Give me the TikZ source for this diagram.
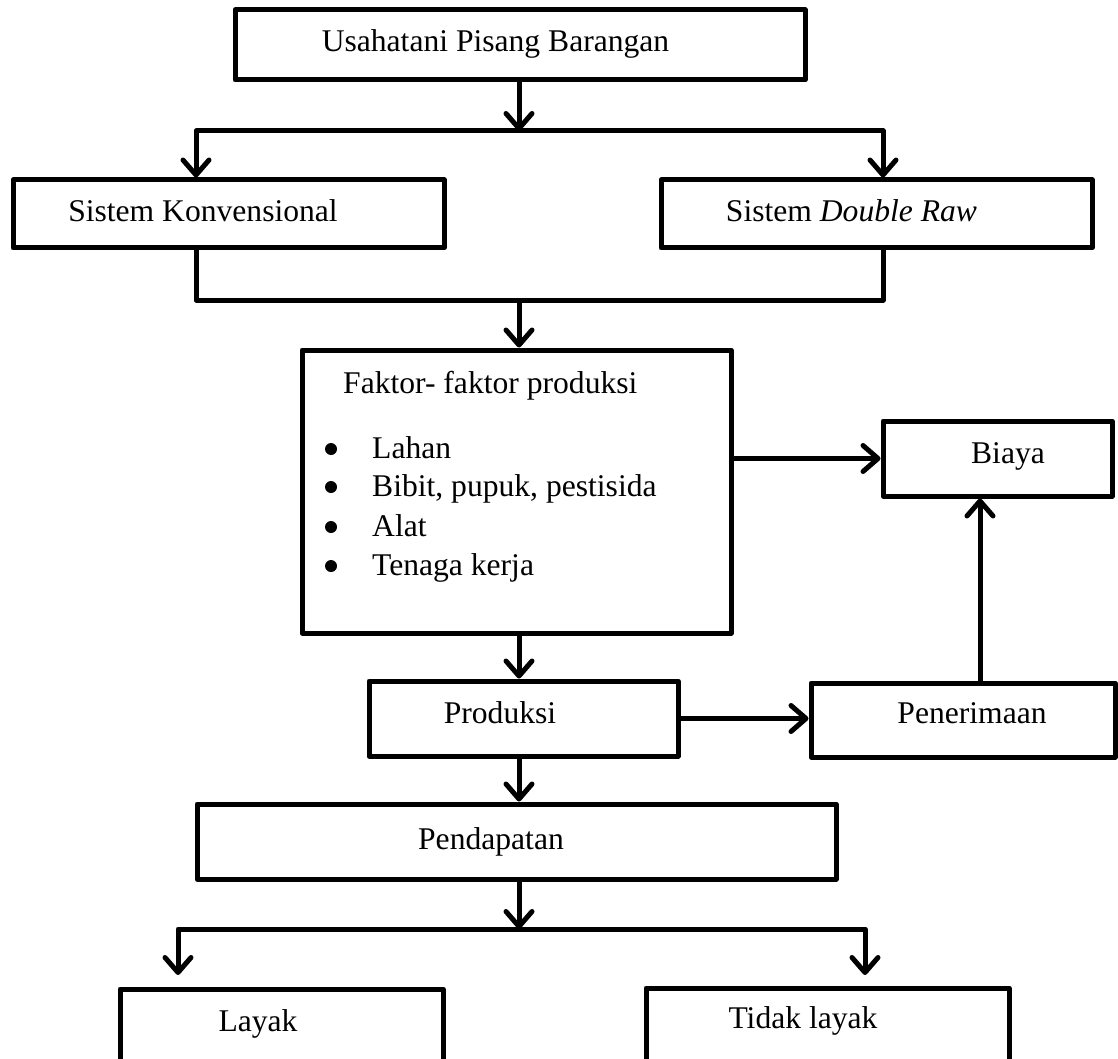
\documentclass[tikz,border=0pt]{standalone}
\usepackage{fontspec}
\setmainfont{Liberation Serif}
\usetikzlibrary{arrows.meta}

\tikzset{
	box/.style={draw, rectangle, line width=5pt, inner sep=0pt, line join=round},
	txt/.style={anchor=base, inner sep=0pt, font=\fontsize{31.6}{38}\selectfont},
	ln/.style={line width=5pt, line join=round},
	arr/.style={ln, -{Straight Barb[length=15pt,width=26pt,round]}},
}

\begin{document}
\begin{tikzpicture}[x=1pt,y=-1pt]
		\useasboundingbox (0,0) rectangle (1118,1059);

		\node[box, minimum width=570, minimum height=70] (usaha) at (520,45) {};
		\node[box, minimum width=431, minimum height=68] (konv) at (228.5,214) {};
		\node[box, minimum width=431, minimum height=68] (dbl) at (876.5,214) {};
		\node[box, minimum width=429, minimum height=283] (faktor) at (516.5,491.5) {};
		\node[box, minimum width=229, minimum height=75] (biaya) at (997.5,458.5) {};
		\node[box, minimum width=309, minimum height=75] (produksi) at (523.5,718.5) {};
		\node[box, minimum width=304, minimum height=74] (terima) at (963,720) {};
		\node[box, minimum width=639, minimum height=75] (pendapatan) at (516.5,841.5) {};
		\node[box, minimum width=323, minimum height=100] (layak) at (281.5,1039) {};
		\node[box, minimum width=363, minimum height=100] (tlayak) at (827.5,1038) {};

		\node[txt] (usahaT) at (495.5,52) {Usahatani Pisang Barangan};
		\node[txt] (konvT) at (203,222) {Sistem Konvensional};
		\node[txt] (dblT) at (851.5,222) {Sistem \textit{Double Raw}};
		\node[txt, anchor=base west] (faktorT) at (343,393) {Faktor- faktor produksi};
		\foreach \y/\t [count=\i] in {458/Lahan, 496/{Bibit, pupuk, pestisida}, 536/Alat, 575/{Tenaga kerja}} {
			\node[circle, fill, inner sep=0pt, minimum size=12] (dot\i) at (331,\y-9) {};
			\node[txt, anchor=base west] (item\i) at (372,\y) {\t};
		}
		\node[txt] (biayaT) at (1008,463) {Biaya};
		\node[txt] (produksiT) at (500,723) {Produksi};
		\node[txt] (terimaT) at (972,723) {Penerimaan};
		\node[txt] (pendapatanT) at (491,849) {Pendapatan};
		\node[txt] (layakT) at (258,1031) {Layak};
		\node[txt] (tlayakT) at (803,1028) {Tidak layak};

		\coordinate (forkA) at (519,131);
		\coordinate (forkAL) at (196,131);
		\coordinate (forkAR) at (883,131);
		\coordinate (joinB) at (519,300);
		\coordinate (upX) at (980,0);
		\coordinate (forkC) at (519,929);
		\coordinate (endL) at (178,975);
		\coordinate (endR) at (865,975);

		\draw[arr] (usaha.south -| forkA) -- (forkA);
		\draw[arr] (forkA) -| (konv.north -| forkAL);
		\draw[arr] (forkA) -| (dbl.north -| forkAR);
		\draw[ln] (konv.south -| forkAL) |- (joinB) -| (dbl.south -| forkAR);
		\draw[arr] (joinB) -- (faktor.north -| joinB);
		\draw[arr] (biaya.west -| faktor.east) -- (biaya.west);
		\draw[arr] (faktor.south -| joinB) -- (produksi.north -| joinB);
		\draw[arr] (produksi.east) -- (produksi.east -| terima.west);
		\draw[arr] (terima.north -| upX) -- (biaya.south -| upX);
		\draw[arr] (produksi.south -| joinB) -- (pendapatan.north -| joinB);
		\draw[arr] (pendapatan.south -| forkC) -- (forkC);
		\draw[arr] (forkC) -| (endL);
		\draw[arr] (forkC) -| (endR);

	\end{tikzpicture}
\end{document}
